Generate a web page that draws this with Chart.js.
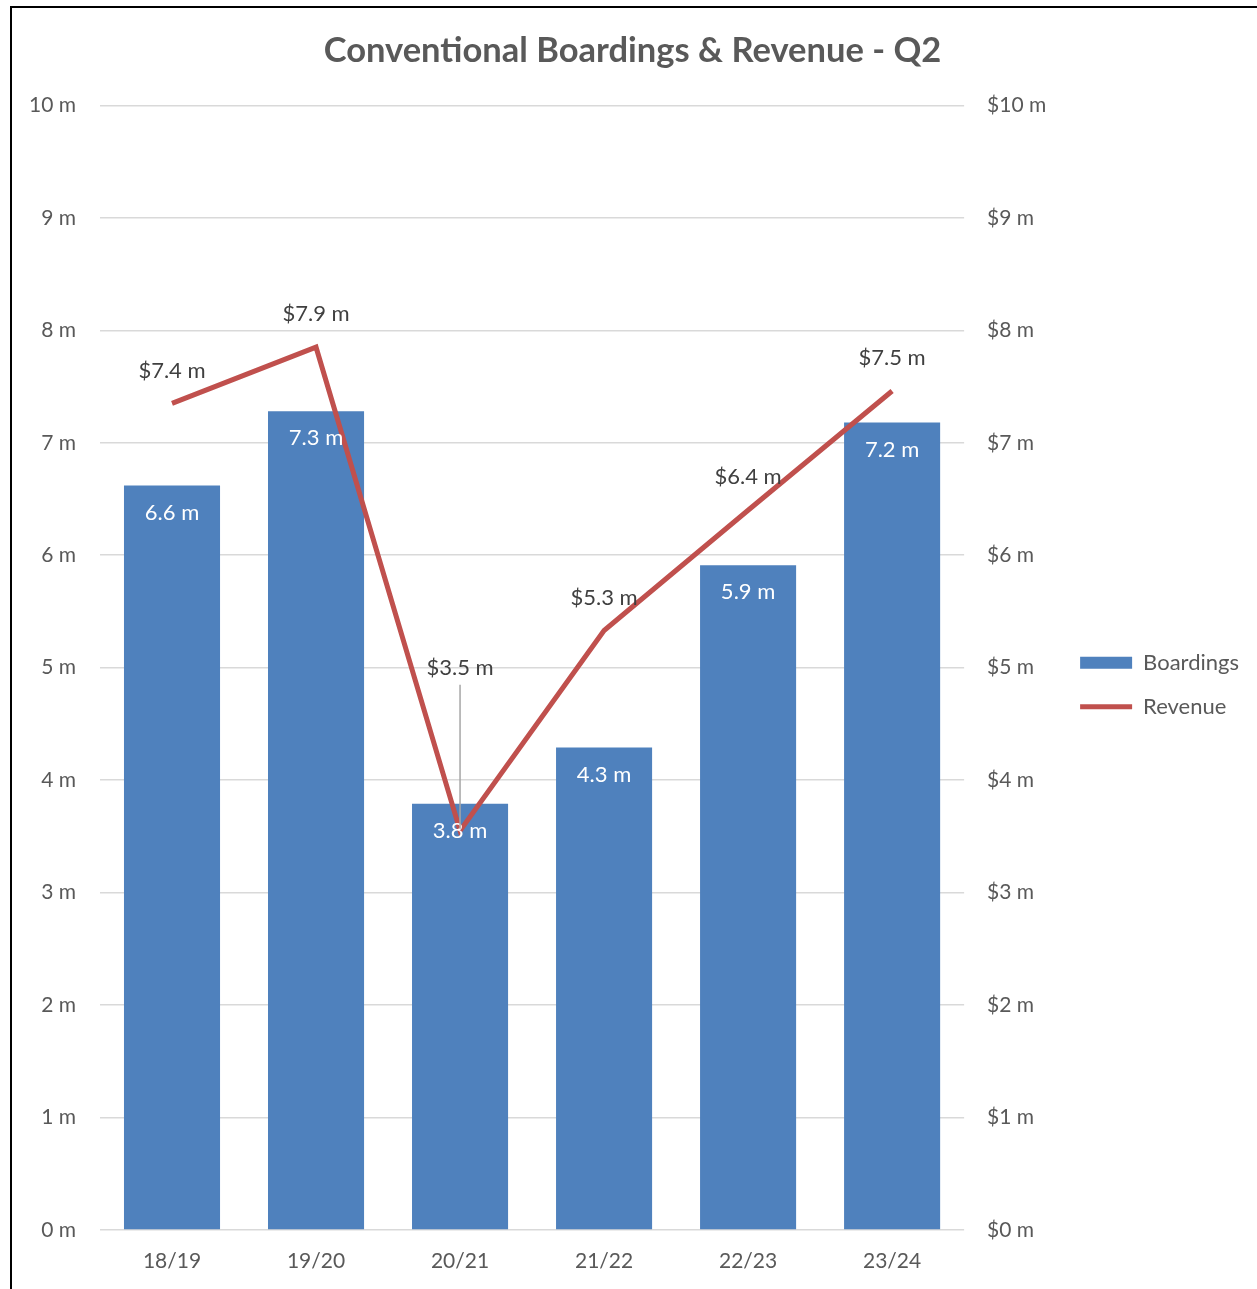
<!DOCTYPE html>
<html>
<head>
<meta charset="utf-8">
<script src="https://cdn.jsdelivr.net/npm/chart.js@4.4.1/dist/chart.umd.min.js"></script>
<style>
  html, body { margin: 0; padding: 0; background: #fff; }
  #frame {
    position: absolute; left: 10px; top: 6px;
    width: 1247px; height: 1283px;
    border-left: 2px solid #000; border-top: 2px solid #000;
  }
  #box { position: absolute; left: 0; top: 0; width: 1245px; height: 1281px; }
</style>
</head>
<body>
<div id="frame"><div id="box"><canvas id="revChart"></canvas></div></div>
<script>
const years = ["18/19", "19/20", "20/21", "21/22", "22/23", "23/24"];
const boardings = [6.62, 7.28, 3.79, 4.29, 5.91, 7.18];   // millions
const revenue = [7.35, 7.85, 3.55, 5.33, 6.4, 7.46];      // $ millions
const revenueLabels = ["$7.4 m", "$7.9 m", "$3.5 m", "$5.3 m", "$6.4 m", "$7.5 m"];
const boardingLabels = ["6.6 m", "7.3 m", "3.8 m", "4.3 m", "5.9 m", "7.2 m"];

const FONT = "Lato";
const blue = "#4F81BD";
const red = "#C0504D";
const textGray = "#595959";

// value labels drawn straight onto the canvas
const valueLabels = {
  id: "valueLabels",
  afterDatasetsDraw(chart) {
    const ctx = chart.ctx;
    ctx.save();
    ctx.font = "22px " + FONT;
    ctx.textAlign = "center";
    ctx.textBaseline = "middle";

    chart.getDatasetMeta(0).data.forEach((bar, i) => {
      ctx.fillStyle = "#ffffff";
      ctx.fillText(boardingLabels[i], bar.x, bar.y + 27);
    });

    chart.getDatasetMeta(1).data.forEach((pt, i) => {
      let y = pt.y - 33;
      if (i === 2) {
        // label pulled up, with a leader line back to the point
        y = pt.y - 163;
        ctx.strokeStyle = "#a6a6a6";
        ctx.lineWidth = 1.5;
        ctx.beginPath();
        ctx.moveTo(pt.x, y + 17);
        ctx.lineTo(pt.x, pt.y - 2);
        ctx.stroke();
      }
      ctx.fillStyle = "#404040";
      ctx.fillText(revenueLabels[i], pt.x, y);
    });
    ctx.restore();
  }
};

const ctx = document.getElementById("revChart");
new Chart(ctx, {
  data: {
    labels: years,
    datasets: [
      {
        type: "bar",
        label: "Boardings",
        data: boardings,
        backgroundColor: blue,
        yAxisID: "y",
        order: 1,
        categoryPercentage: 1,
        barPercentage: 0.667,
      },
      {
        type: "line",
        label: "Revenue",
        data: revenue,
        borderColor: red,
        borderWidth: 5,
        pointRadius: 0,
        tension: 0,
        yAxisID: "y2",
        order: 0,
      },
    ],
  },
  options: {
    responsive: true,
    maintainAspectRatio: false,
    animation: false,
    layout: { padding: { top: 0, right: 8, bottom: 0, left: 4 } },
    plugins: {
      title: {
        display: true,
        text: "Conventional Boardings & Revenue - Q2",
        color: textGray,
        font: { family: FONT, size: 34.5, weight: "bold" },
        padding: { top: 22, bottom: 34 },
      },
      tooltip: { enabled: false },
      legend: {
        position: "right",
        fullSize: false,
        title: { display: true, text: "", padding: 11, font: { size: 10 } },
        labels: {
          font: { family: FONT, size: 22 },
          color: textGray,
          usePointStyle: true,
          pointStyleWidth: 52,
          boxHeight: 12,
          padding: 22,
          generateLabels: () => [
            { text: "Boardings", fillStyle: blue, strokeStyle: blue, lineWidth: 0, pointStyle: "rect", datasetIndex: 0, fontColor: textGray },
            { text: "Revenue", fillStyle: red, strokeStyle: red, lineWidth: 5, pointStyle: "line", datasetIndex: 1, fontColor: textGray },
          ],
        },
      },
    },
    scales: {
      x: {
        grid: { display: false },
        border: { display: false },
        ticks: { color: textGray, font: { family: FONT, size: 21 }, padding: 11 },
        afterFit: (scale) => { scale.height = 59; },
      },
      y: {
        position: "left",
        min: 0,
        max: 10,
        border: { display: false },
        grid: { color: "#d9d9d9", lineWidth: 1.5, drawTicks: false },
        ticks: {
          stepSize: 1,
          padding: 24,
          color: textGray,
          font: { family: FONT, size: 21 },
          callback: function(value) {
            return value + " m";
          },
        },
        afterFit: (scale) => { scale.width = 84; },
      },
      y2: {
        position: "right",
        min: 0,
        max: 10,
        border: { display: false },
        grid: { display: false, drawTicks: false },
        ticks: {
          stepSize: 1,
          padding: 23,
          color: textGray,
          font: { family: FONT, size: 21 },
          callback: function(value) {
            return "$" + value + " m";
          },
        },
        afterFit: (scale) => { scale.width = 94; },
      },
    },
  },
  plugins: [valueLabels],
});
</script>
</body>
</html>
